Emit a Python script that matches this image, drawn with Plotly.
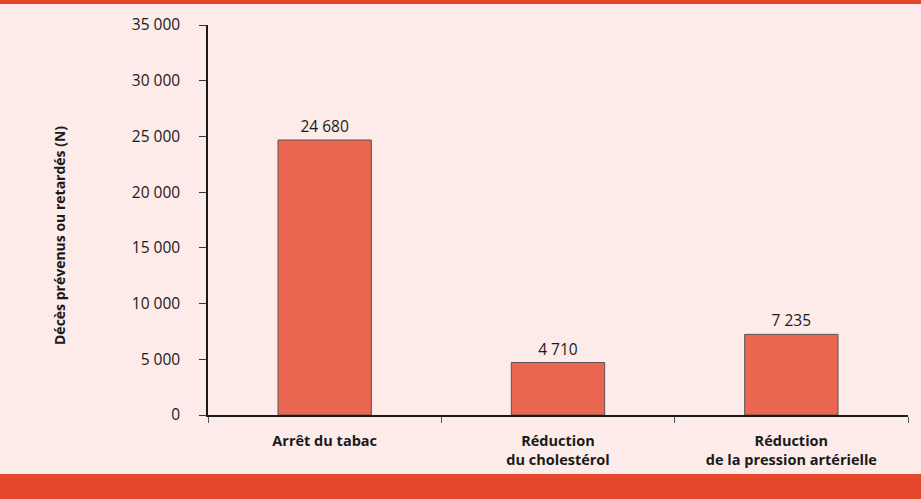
import plotly.graph_objects as go

categories = ["Arrêt du tabac", "Réduction<br>du cholestérol", "Réduction<br>de la pression artérielle"]
deaths = [24680, 4710, 7235]
value_labels = ["24 680", "4 710", "7 235"]
y_ticks = [0, 5000, 10000, 15000, 20000, 25000, 30000, 35000]
y_tick_labels = ["0", "5 000", "10 000", "15 000", "20 000", "25 000", "30 000", "35 000"]

BG = "#FCEBE8"
BAND = "#E5472C"
BAR = "#EB6650"
FONT = "Open Sans"

W, H = 921, 499
L, R, T, B = 208, 13, 25, 84
pw, ph = W - L - R, H - T - B


def px_x(p):
    return (p - L) / pw


def px_y(p):
    return (H - B - p) / ph


fig = go.Figure(go.Bar(
    x=categories, y=deaths,
    marker=dict(color=BAR, line=dict(color="#555555", width=1)),
    width=0.4,
    text=value_labels, textposition="outside",
    textfont=dict(family=FONT, size=15.5, color="#1a1a1a"),
    cliponaxis=False,
))

fig.update_layout(
    width=W, height=H,
    margin=dict(l=L, r=R, t=T, b=B),
    paper_bgcolor=BG, plot_bgcolor=BG,
    showlegend=False,
    font=dict(family=FONT, size=15.5, color="#1a1a1a"),
    shapes=[
        dict(type="rect", xref="paper", yref="paper", x0=px_x(0), x1=px_x(W),
             y0=px_y(0), y1=px_y(4), fillcolor=BAND, line_width=0, layer="below"),
        dict(type="rect", xref="paper", yref="paper", x0=px_x(0), x1=px_x(W),
             y0=px_y(474), y1=px_y(H), fillcolor=BAND, line_width=0, layer="below"),
    ],
    annotations=[dict(
        text="<b>Décès prévenus ou retardés (N)</b>", textangle=-90,
        xref="paper", yref="paper", x=px_x(59), y=px_y(236),
        xanchor="center", yanchor="middle",
        showarrow=False, font=dict(family=FONT, size=14, color="#1a1a1a"),
    )],
)

fig.update_xaxes(
    showline=True, linecolor="#1a1a1a", linewidth=2,
    ticks="outside", tickson="boundaries", ticklen=6, tickcolor="#555555",
    tickfont=dict(family=FONT, size=14.5, color="#1a1a1a", weight="bold"),
    ticklabelstandoff=12,
    showgrid=False, zeroline=False,
)
fig.update_yaxes(
    range=[0, 35000], tickvals=y_ticks, ticktext=y_tick_labels,
    showline=True, linecolor="#1a1a1a", linewidth=1.5,
    ticks="outside", ticklen=7, tickcolor="#333333",
    ticklabelstandoff=16,
    showgrid=False, zeroline=False,
)

# page has a default 8px body margin; remove it so the figure fills the window
fig.write_html("out.html", config={"displayModeBar": False},
               post_script="document.body.style.margin='0';document.body.style.overflow='hidden';")
